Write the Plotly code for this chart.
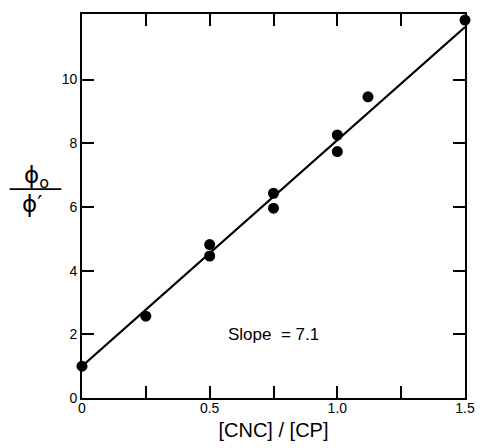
import plotly.graph_objects as go

# Measured quantum-yield ratio vs. concentration ratio
ratio_cnc_cp = [0.0, 0.25, 0.50, 0.50, 0.75, 0.75, 1.00, 1.00, 1.12, 1.50]
phi_ratio = [1.0, 2.57, 4.82, 4.46, 6.43, 5.96, 8.26, 7.74, 9.46, 11.87]

# Stern-Volmer fit line
fit_intercept = 1.0
fit_slope = 7.1
fit_x = [0.0, 1.5]
fit_y = [fit_intercept + fit_slope * v for v in fit_x]

x_tick_marks = [0, 0.25, 0.5, 0.75, 1.0, 1.25, 1.5]
x_tickvals = [0, 0.5, 1.0, 1.5]
x_ticktext = ["0", "0.5", "1.0", "1.5"]
y_tickvals = [0, 2, 4, 6, 8, 10]
y_ticktext = ["0", "2", "4", "6", "8", "10"]

FONT = "Liberation Sans"
X_RANGE = [0, 1.5]

fig = go.Figure()
fig.add_trace(go.Scatter(
    x=fit_x, y=fit_y, mode="lines",
    line=dict(color="black", width=2.2),
    hoverinfo="skip", showlegend=False,
))
fig.add_trace(go.Scatter(
    x=ratio_cnc_cp, y=phi_ratio, mode="markers",
    marker=dict(color="black", size=11),
    cliponaxis=False, showlegend=False,
))

# frame axis: tick marks every 0.25 on bottom and top
fig.update_layout(xaxis=dict(
    range=X_RANGE, tickvals=x_tick_marks, showticklabels=False,
    ticks="inside", ticklen=12, tickwidth=1.5, tickcolor="black",
    showline=True, linecolor="black", linewidth=1.8, mirror="ticks",
    showgrid=False, zeroline=False,
    title=dict(text="[CNC] / [CP]", font=dict(family=FONT, size=20, color="black"), standoff=24),
))
# label axis: numbers every 0.5
fig.update_layout(xaxis2=dict(
    range=X_RANGE, overlaying="x", side="bottom", anchor="y",
    tickvals=x_tickvals, ticktext=x_ticktext, ticks="",
    showline=False, showgrid=False, zeroline=False,
    tickfont=dict(family=FONT, size=14, color="black"),
))
fig.add_trace(go.Scatter(
    x=X_RANGE, y=[0, 0], xaxis="x2", yaxis="y", mode="lines",
    line=dict(width=0), hoverinfo="skip", showlegend=False,
))
fig.update_yaxes(
    range=[0, 12.06], tickvals=y_tickvals, ticktext=y_ticktext,
    ticks="inside", ticklen=12, tickwidth=1.5, tickcolor="black",
    showline=True, linecolor="black", linewidth=1.8, mirror="ticks",
    showgrid=False, zeroline=False,
    tickfont=dict(family=FONT, size=14, color="black"),
)

# y-axis label drawn as a stacked fraction
fig.add_annotation(
    xref="paper", yref="paper", x=-0.12, y=0.575,
    xanchor="center", yanchor="middle",
    text="\u03d5<sub>o</sub>", showarrow=False,
    font=dict(family="DejaVu Sans", size=23, color="black"),
)
fig.add_annotation(
    xref="paper", yref="paper", x=-0.13, y=0.505,
    xanchor="center", yanchor="middle",
    text="\u03d5\u2032", showarrow=False,
    font=dict(family="DejaVu Sans", size=23, color="black"),
)
fig.add_shape(
    type="line", xref="paper", yref="paper",
    x0=-0.189, x1=-0.054, y0=0.544, y1=0.544,
    line=dict(color="black", width=1.8),
)

fig.add_annotation(
    x=0.75, y=2.0, xref="x", yref="y",
    text="Slope  = 7.1", showarrow=False,
    font=dict(family=FONT, size=17, color="black"),
)

fig.update_layout(
    width=487, height=448,
    margin=dict(l=82, r=14, t=14, b=48),
    paper_bgcolor="white", plot_bgcolor="white",
)

fig.write_html("out.html")
